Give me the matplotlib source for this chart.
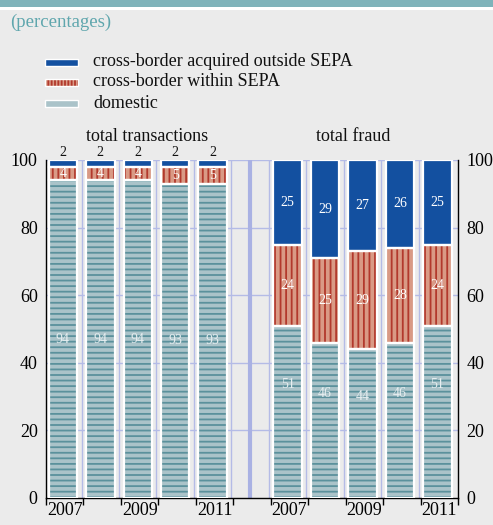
import matplotlib
matplotlib.use("Agg")
import matplotlib.pyplot as plt
from matplotlib.patches import Rectangle
import numpy as np

plt.rcParams['font.family'] = ['Liberation Serif', 'DejaVu Serif']
plt.rcParams['hatch.linewidth'] = 1.3

years = ["2007", "2008", "2009", "2010", "2011"]
tick_years = ["2007", "", "2009", "", "2011"]
groups = ["total transactions", "total fraud"]
series = ["cross-border acquired outside SEPA", "cross-border within SEPA", "domestic"]

trans_outside = [2, 2, 2, 2, 2]
trans_within = [4, 4, 4, 5, 5]
trans_domestic = [94, 94, 94, 93, 93]

fraud_outside = [25, 29, 27, 26, 25]
fraud_within = [24, 25, 29, 28, 24]
fraud_domestic = [51, 46, 44, 46, 51]

BG = "#ebebeb"
BLUE = "#1350a0"
RED_FACE = "#d99a85"
RED_HATCH = "#b2392c"
DOM_FACE = "#aac3c9"
DOM_HATCH = "#5b919c"
GRID = "#b4bbe6"

fig = plt.figure(figsize=(4.93, 5.25), dpi=100, facecolor=BG)

# top band
fig.patches.append(Rectangle((0, 1 - 7 / 525), 1, 7 / 525, transform=fig.transFigure,
                             facecolor="#7fb3ba", edgecolor="none", zorder=0))
fig.patches.append(Rectangle((0, 1 - 10 / 525), 1, 3 / 525, transform=fig.transFigure,
                             facecolor="white", edgecolor="none", zorder=0))

fig.text(10 / 493, 1 - 22 / 525, "(percentages)", color="#5fa6ad", fontsize=13.5,
         va="center", ha="left")

# legend
leg_y = [62, 82, 103]
leg_styles = [(BLUE, BLUE, None), (RED_FACE, RED_HATCH, "|||||"), (DOM_FACE, DOM_HATCH, "-")]
for (fc, hc, h), yy, name in zip(leg_styles, leg_y, series):
    r = Rectangle((45 / 493, 1 - (yy + 3.5) / 525), 33 / 493, 7 / 525, transform=fig.transFigure,
                  facecolor=fc, edgecolor=hc, hatch=h, linewidth=0)
    fig.patches.append(r)
    fig.patches.append(Rectangle((45 / 493, 1 - (yy + 3.5) / 525), 33 / 493, 7 / 525,
                                 transform=fig.transFigure, fill=False,
                                 edgecolor="white", linewidth=1.0))
    fig.text(93 / 493, 1 - yy / 525, name, fontsize=13, va="center", ha="left", color="#111111")

ax = fig.add_axes([46 / 493, 1 - 498 / 525, (458 - 46) / 493, (498 - 160) / 525])
ax.set_facecolor(BG)
ax.set_xlim(-0.5, 10.5)
ax.set_ylim(0, 100)

x_trans = np.arange(5)
x_fraud = np.arange(5) + 6
width = 0.76

# grid
for yv in [20, 40, 60, 80, 100]:
    ax.axhline(yv, color=GRID, lw=1.0, zorder=0.5)
for xv in np.arange(0.5, 10.5, 1.0):
    ax.axvline(xv - 0.05, color=GRID, lw=1.0, zorder=0.5)
ax.axvline(4.95, color="#a9b1e3", lw=3.0, zorder=0.5)

def draw(xs, dom, wit, out, dom_label_shift):
    dom = np.array(dom); wit = np.array(wit); out = np.array(out)
    xs = xs - 0.05
    ax.bar(xs, dom, width, color=DOM_FACE, edgecolor=DOM_HATCH, hatch="---", linewidth=0, zorder=2)
    ax.bar(xs, wit, width, bottom=dom, color=RED_FACE, edgecolor=RED_HATCH, hatch="|||", linewidth=0, zorder=2)
    ax.bar(xs, out, width, bottom=dom + wit, color=BLUE, linewidth=0, zorder=2)
    for vals, bot in [(dom, 0), (wit, dom), (out, dom + wit)]:
        ax.bar(xs, vals, width, bottom=bot, fill=False, edgecolor="white", linewidth=1.6, zorder=3)
    for i, x in enumerate(xs):
        ax.text(x, dom[i] / 2 + dom_label_shift, str(dom[i]), ha="center", va="center",
                color="#e6eef0", fontsize=10, zorder=4)
        ax.text(x, dom[i] + wit[i] / 2, str(wit[i]), ha="center", va="center",
                color="white", fontsize=10, zorder=4)
        if out[i] >= 10:
            ax.text(x, dom[i] + wit[i] + out[i] / 2, str(out[i]), ha="center", va="center",
                    color="white", fontsize=10, zorder=4)
        else:
            ax.text(x, 100.3, str(out[i]), ha="center", va="bottom",
                    color="#111111", fontsize=10, zorder=4)

draw(x_trans, trans_domestic, trans_within, trans_outside, 0)
draw(x_fraud, fraud_domestic, fraud_within, fraud_outside, 8)

ax.text(2.2, 104.5, groups[0], ha="center", va="bottom", fontsize=13, color="#111111")
ax.text(7.7, 104.5, groups[1], ha="center", va="bottom", fontsize=13, color="#111111")

# spines
for s in ["top"]:
    ax.spines[s].set_visible(False)
for s in ["left", "right", "bottom"]:
    ax.spines[s].set_color("black")
    ax.spines[s].set_linewidth(1.0)

ax.set_yticks([0, 20, 40, 60, 80, 100])
ax.tick_params(axis="y", length=0, labelsize=13, left=True, right=True,
               labelleft=True, labelright=True, pad=6)
ax.set_xticks(np.arange(-0.5, 11, 1.0))
ax.set_xticklabels([])
ax.tick_params(axis="x", which="major", length=5, width=1.0, direction="out")
ax.set_xticks(list(x_trans) + list(x_fraud), minor=True)
ax.set_xticklabels(tick_years + tick_years, minor=True)
ax.tick_params(axis="x", which="minor", length=0, labelsize=13, pad=3)

fig.savefig("out.png", dpi=100, facecolor=BG)
